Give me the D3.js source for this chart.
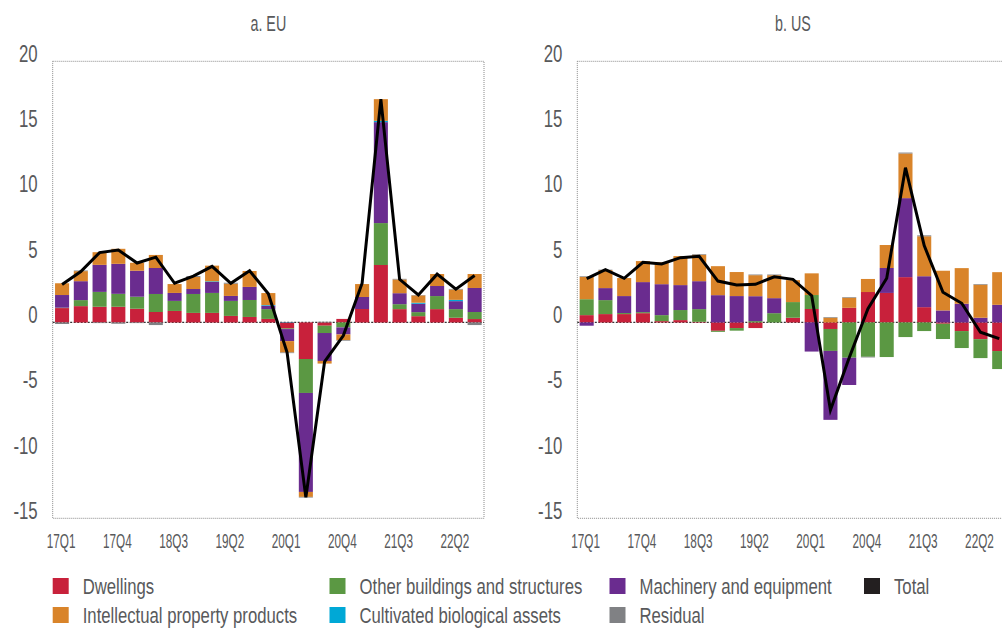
<!DOCTYPE html>
<html>
<head>
<meta charset="utf-8">
<script src="https://cdn.jsdelivr.net/npm/d3@7"></script>
<style>
  body { margin: 0; background: #fff; }
  text { font-family: "Liberation Sans", Arial, sans-serif; fill: #58595b; }
</style>
</head>
<body>
<svg width="1002" height="628"></svg>
<script>
const quarters = ["17Q1", "17Q2", "17Q3", "17Q4", "18Q1", "18Q2", "18Q3", "18Q4", "19Q1", "19Q2", "19Q3", "19Q4",
    "20Q1", "20Q2", "20Q3", "20Q4", "21Q1", "21Q2", "21Q3", "21Q4", "22Q1", "22Q2", "22Q3"];
const tickQuarters = ["17Q1", "17Q4", "18Q3", "19Q2", "20Q1", "20Q4", "21Q3", "22Q2"];
const yTicks = [-15, -10, -5, 0, 5, 10, 15, 20];

// EU, contributions to investment growth (pp)
const euDwellings = [1.1, 1.25, 1.2, 1.2, 1.05, 0.8, 0.88, 0.73, 0.73, 0.5, 0.42, 0.27, -0.46, -2.8, -0.25, 0.27, 1.03, 4.4, 1.02, 0.48, 1.02, 0.36, 0.26];
const euOther = [0.03, 0.46, 1.14, 0.99, 0.92, 1.38, 0.77, 1.45, 1.53, 1.15, 1.3, 0.75, -0.05, -2.6, -0.56, -0.38, 0, 3.21, 0.38, 0.31, 1.0, 0.66, 0.54];
const euMachinery = [0.97, 1.45, 2.07, 2.3, 1.99, 1.99, 0.61, 0.38, 0.84, 0.38, 1.0, 0.26, -0.92, -7.58, -2.14, -0.54, 0.92, 7.73, 0.84, 0.64, 0.77, 0.61, 1.84];
const euCultivated = [0, 0, 0, 0, 0, 0, 0, 0, 0.05, 0, 0, 0.05, 0.03, 0, 0, 0, 0, 0.1, 0, 0.08, 0, 0.1, 0];
const euIpp = [0.9, 0.77, 0.97, 1.15, 0.61, 1.0, 0.68, 0.92, 1.2, 0.94, 1.22, 0.92, -0.87, -0.38, -0.2, -0.43, 0.99, 1.66, 1.05, 0.56, 0.92, 0.79, 1.07];
const euResidual = [-0.12, 0.05, -0.05, -0.1, -0.05, -0.2, 0, 0.07, 0, 0.07, 0, 0, -0.05, -0.05, 0.05, -0.05, 0, 0, 0.05, 0.03, 0, 0.05, -0.2];
const euTotal = [2.9, 3.9, 5.35, 5.55, 4.55, 5.0, 3.0, 3.55, 4.3, 3.0, 3.95, 2.2, -2.3, -13.4, -3.0, -1.0, 3.0, 17.1, 3.3, 2.1, 3.7, 2.55, 3.6];

// US
const usDwellings = [0.56, 0.64, 0.64, 0.71, 0.1, 0.18, 0.05, -0.64, -0.43, -0.43, 0, 0.36, 1.03, -0.5, 1.12, 2.33, 2.26, 3.47, 1.17, -0.1, -0.66, -1.28, -2.19];
const usOther = [1.22, 1.07, 0.08, 0.08, 0.46, 0.77, 0.97, -0.08, -0.2, 0.1, 0.71, 1.2, 1.07, -1.68, -2.7, -2.63, -2.65, -1.12, -0.66, -1.17, -1.3, -1.45, -1.38];
const usMachinery = [-0.25, 0.92, 1.3, 2.3, 2.37, 1.91, 2.14, 2.09, 2.02, 1.91, 1.15, 0, -2.23, -5.28, -2.09, 0, 1.91, 6.05, 2.37, 0.92, 1.43, 0.36, 1.35];
const usCultivated = [0, 0, 0, 0, 0, 0, 0, 0, 0, 0, 0, 0, 0, 0, 0, 0, 0, 0, 0, 0, 0, 0, 0];
const usIpp = [1.71, 1.38, 1.38, 1.61, 1.68, 2.22, 2.02, 2.22, 1.84, 1.61, 1.76, 1.68, 1.66, 0.36, 0.77, 1.0, 1.76, 3.42, 3.06, 3.04, 2.73, 2.53, 2.5];
const usResidual = [0.05, 0.03, 0, 0, 0.02, 0, 0.05, 0, 0, 0.05, 0.05, 0, 0, 0.05, 0.05, -0.05, 0, 0.07, 0.07, 0, 0, 0.05, 0];
const usTotal = [3.35, 4.05, 3.38, 4.6, 4.48, 4.96, 5.06, 3.17, 2.87, 2.92, 3.5, 3.3, 2.05, -6.7, -2.7, 1.05, 3.38, 11.85, 5.88, 2.31, 1.47, -0.75, -1.24];

// stacking order (bottom up): dwellings, other, machinery, cultivated, ipp, residual
const keys = ["dwellings", "other", "machinery", "cultivated", "ipp", "residual"];
const colors = {
    dwellings: "#c8213b",
    other: "#5b9843",
    machinery: "#6a2c8f",
    cultivated: "#00a8d6",
    ipp: "#d9842a",
    residual: "#808184",
    total: "#231f20"
};

const svg = d3.select("svg");
const plotWidth = 431.3;
const y = d3.scaleLinear().domain([-15, 20]).range([518.3, 61.3]);

// condensed text: scale horizontally around the anchor point
function label(parent, x, yPos, str, size, sx, anchor) {
    return parent.append("text")
        .attr("transform", `translate(${x},${yPos}) scale(${sx},1)`)
        .attr("text-anchor", anchor)
        .style("font-size", size + "px")
        .text(str);
}

function drawPanel(title, left, series, total) {
    const g = svg.append("g");
    const x = d3.scaleBand().domain(quarters)
        .range([left, left + plotWidth])
        .paddingInner(0.25)
        .paddingOuter(0.125);

    // dotted frame
    g.append("rect")
        .attr("x", left).attr("y", y(20))
        .attr("width", plotWidth).attr("height", y(-15) - y(20))
        .attr("fill", "none")
        .attr("stroke", "#8a8a8a")
        .attr("stroke-width", 1)
        .attr("stroke-dasharray", "1,1");

    g.append("line")
        .attr("x1", left).attr("x2", left + plotWidth)
        .attr("y1", y(0)).attr("y2", y(0))
        .attr("stroke", "#333")
        .attr("stroke-width", 1.2)
        .attr("stroke-dasharray", "2,1.5");

    const rows = quarters.map((q, i) => {
        const r = { q: q };
        keys.forEach(k => { r[k] = series[k][i]; });
        return r;
    });
    const stacked = d3.stack().keys(keys).offset(d3.stackOffsetDiverging)(rows);

    g.selectAll("g.layer")
        .data(stacked)
        .enter().append("g")
        .attr("class", "layer")
        .attr("fill", d => colors[d.key])
        .selectAll("rect")
        .data(d => d)
        .enter().append("rect")
        .attr("x", d => x(d.data.q))
        .attr("width", x.bandwidth())
        .attr("y", d => y(Math.max(d[0], d[1])))
        .attr("height", d => Math.abs(y(d[0]) - y(d[1])));

    const line = d3.line()
        .x((d, i) => x(quarters[i]) + x.bandwidth() / 2)
        .y(d => y(d));

    g.append("path")
        .datum(total)
        .attr("d", line)
        .attr("fill", "none")
        .attr("stroke", "#000")
        .attr("stroke-width", 3);

    yTicks.forEach(t => {
        label(g, left - 15, y(t) + 0.5, t, 23, 0.73, "end");
    });

    tickQuarters.forEach(q => {
        label(g, x(q) + x.bandwidth() / 2 - 1, 548, q, 21, 0.56, "middle");
    });

    label(g, left + plotWidth / 2, 31, title, 22, 0.65, "middle");
}

drawPanel("a. EU", 52.7, {
    dwellings: euDwellings, other: euOther, machinery: euMachinery,
    cultivated: euCultivated, ipp: euIpp, residual: euResidual
}, euTotal);

drawPanel("b. US", 577.3, {
    dwellings: usDwellings, other: usOther, machinery: usMachinery,
    cultivated: usCultivated, ipp: usIpp, residual: usResidual
}, usTotal);

// legend, two rows of four columns
const legendItems = [
    { key: "dwellings", name: "Dwellings", col: 0, row: 0 },
    { key: "other", name: "Other buildings and structures", col: 1, row: 0 },
    { key: "machinery", name: "Machinery and equipment", col: 2, row: 0 },
    { key: "total", name: "Total", col: 3, row: 0 },
    { key: "ipp", name: "Intellectual property products", col: 0, row: 1 },
    { key: "cultivated", name: "Cultivated biological assets", col: 1, row: 1 },
    { key: "residual", name: "Residual", col: 2, row: 1 }
];
const legendCols = [52.7, 329.5, 609.5, 864];
const legendRows = [578, 607];

const legend = svg.append("g");
legendItems.forEach(item => {
    const lx = legendCols[item.col];
    const ly = legendRows[item.row];
    legend.append("rect")
        .attr("x", lx).attr("y", ly)
        .attr("width", 16).attr("height", 16)
        .attr("fill", colors[item.key]);
    label(legend, lx + 30, ly + 15.5, item.name, 22, 0.76, "start");
});
</script>
</body>
</html>
